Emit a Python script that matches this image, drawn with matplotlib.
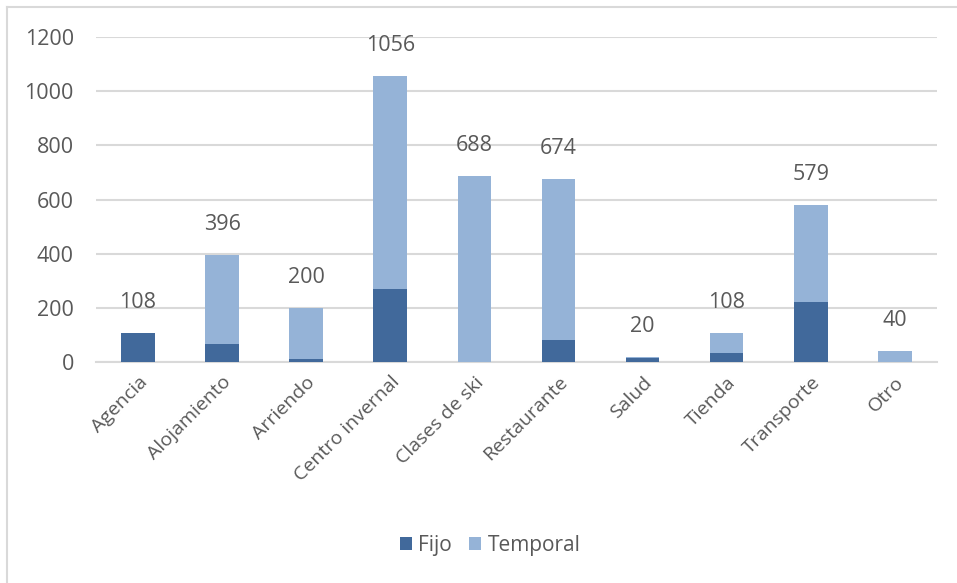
import matplotlib.pyplot as plt
from matplotlib.lines import Line2D
import numpy as np

# ---- Data ----
categorias = ["Agencia", "Alojamiento", "Arriendo", "Centro invernal", "Clases de ski",
              "Restaurante", "Salud", "Tienda", "Transporte", "Otro"]
fijo = [108, 66, 12, 268, 0, 81, 16, 33, 221, 0]
temporal = [0, 330, 188, 788, 688, 593, 4, 75, 358, 40]
totales = [108, 396, 200, 1056, 688, 674, 20, 108, 579, 40]

plt.rcParams['font.family'] = ['Open Sans', 'DejaVu Sans']
gris = "#595959"

# ---- Plot ----
fig = plt.figure(figsize=(9.57, 5.83), dpi=100)
ax = fig.add_axes([0.1003, 0.379, 0.8787, 0.5575])

x = np.arange(len(categorias))
ax.bar(x, fijo, width=0.4, color="#41699B", label="Fijo", zorder=3)
ax.bar(x, temporal, width=0.4, bottom=fijo, color="#95B3D7", label="Temporal", zorder=3)

for xi, t in zip(x, totales):
    ax.annotate(str(t), (xi, t), xytext=(0, 22), textcoords="offset points",
                ha="center", va="center", fontsize=15.5, color=gris)

ax.set_xlim(-0.5, len(categorias) - 0.5)
ax.set_ylim(0, 1200)
ax.set_yticks(range(0, 1201, 200))
ax.set_xticks(x)
ax.set_xticklabels(categorias, rotation=45, ha="right", rotation_mode="anchor",
                   fontsize=14, color=gris)
ax.tick_params(axis="y", labelsize=15.5, labelcolor=gris, length=0, pad=16)
ax.tick_params(axis="x", length=0, pad=8)
ax.grid(axis="y", color="#D9D9D9", linewidth=1.5, zorder=0)
for s in ["top", "right", "left"]:
    ax.spines[s].set_visible(False)
ax.spines["bottom"].set_color("#D9D9D9")
ax.spines["bottom"].set_linewidth(1.5)

fig.legend(loc="center", bbox_to_anchor=(0.512, 0.065), ncol=2, frameon=False,
           fontsize=15, labelcolor=gris, handlelength=0.6, handleheight=0.6,
           handletextpad=0.3, columnspacing=0.8)

# chart border (top and left edges visible)
fig.add_artist(Line2D([0.0073, 1.0], [0.988, 0.988], color="#D9D9D9", linewidth=1.5))
fig.add_artist(Line2D([0.0073, 0.0073], [0.0, 0.988], color="#D9D9D9", linewidth=1.5))

fig.savefig("out.png", dpi=100)
